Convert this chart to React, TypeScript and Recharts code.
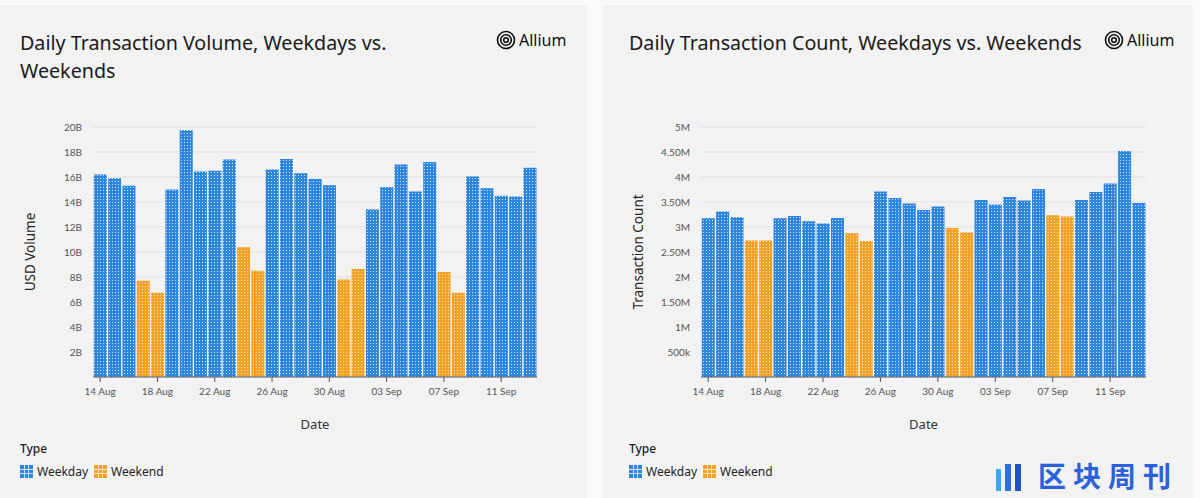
import React from 'react';
import { BarChart, Bar, XAxis, YAxis, CartesianGrid, Cell } from 'recharts';

const dates = [
  '14 Aug', '15 Aug', '16 Aug', '17 Aug', '18 Aug', '19 Aug', '20 Aug', '21 Aug', '22 Aug', '23 Aug',
  '24 Aug', '25 Aug', '26 Aug', '27 Aug', '28 Aug', '29 Aug', '30 Aug', '31 Aug', '01 Sep', '02 Sep',
  '03 Sep', '04 Sep', '05 Sep', '06 Sep', '07 Sep', '08 Sep', '09 Sep', '10 Sep', '11 Sep', '12 Sep', '13 Sep',
];
const dayTypes = [
  'Weekday', 'Weekday', 'Weekday', 'Weekend', 'Weekend', 'Weekday', 'Weekday', 'Weekday', 'Weekday', 'Weekday',
  'Weekend', 'Weekend', 'Weekday', 'Weekday', 'Weekday', 'Weekday', 'Weekday', 'Weekend', 'Weekend', 'Weekday',
  'Weekday', 'Weekday', 'Weekday', 'Weekday', 'Weekend', 'Weekend', 'Weekday', 'Weekday', 'Weekday', 'Weekday', 'Weekday',
];
// USD volume, billions
const volumeB = [
  16.2, 15.9, 15.3, 7.7, 6.75, 15.0, 19.75, 16.45, 16.5, 17.4,
  10.4, 8.5, 16.6, 17.45, 16.3, 15.85, 15.35, 7.8, 8.65, 13.4,
  15.2, 17.0, 14.85, 17.2, 8.4, 6.75, 16.05, 15.1, 14.5, 14.45, 16.75,
];
// transaction count, millions
const countM = [
  3.175, 3.31, 3.195, 2.73, 2.73, 3.175, 3.22, 3.115, 3.07, 3.18,
  2.875, 2.72, 3.71, 3.58, 3.47, 3.34, 3.41, 2.98, 2.89, 3.54,
  3.45, 3.6, 3.53, 3.76, 3.235, 3.21, 3.54, 3.7, 3.87, 4.52, 3.48,
];
const volumeTicks = [2, 4, 6, 8, 10, 12, 14, 16, 18, 20];
const countTicks = [0.5, 1, 1.5, 2, 2.5, 3, 3.5, 4, 4.5, 5];

const volumeData = dates.map((d, i) => ({ date: d, type: dayTypes[i], value: volumeB[i] }));
const countData = dates.map((d, i) => ({ date: d, type: dayTypes[i], value: countM[i] }));

const BLUE = '#2c85de';
const ORANGE = '#f2a226';
const FONT = '"Noto Sans", "Open Sans", sans-serif';
const TICK = { fontSize: 10, fill: '#555', fontFamily: 'Lato, sans-serif' };

const fmtCount = (v: number) => {
  if (v < 1) return `${Math.round(v * 1000)}k`;
  if (Number.isInteger(v)) return `${v}M`;
  return `${v.toFixed(2)}M`;
};

const Patterns = ({ id }: { id: string }) => (
  <defs>
    <pattern id={`${id}-blue`} width={3} height={3} patternUnits="userSpaceOnUse">
      <rect width={3} height={3} fill={BLUE} />
      <rect x={1} y={1} width={1} height={1} fill="#d6e8fa" />
    </pattern>
    <pattern id={`${id}-orange`} width={3} height={3} patternUnits="userSpaceOnUse">
      <rect width={3} height={3} fill={ORANGE} />
      <rect x={1} y={1} width={1} height={1} fill="#fbe4bb" />
    </pattern>
  </defs>
);

const AlliumLogo = ({ left }: { left: number }) => (
  <div style={{ position: 'absolute', left, top: 29, display: 'flex', alignItems: 'center', gap: 3 }}>
    <svg width={20} height={20} viewBox="0 0 20 20">
      <circle cx={10} cy={10} r={8.5} fill="none" stroke="#111" strokeWidth={1.6} />
      <circle cx={10} cy={10} r={5.3} fill="none" stroke="#111" strokeWidth={1.6} />
      <circle cx={10} cy={10} r={2.3} fill="none" stroke="#111" strokeWidth={1.6} />
    </svg>
    <span style={{ fontFamily: FONT, fontSize: 16, color: '#111' }}>Allium</span>
  </div>
);

const LegendBlock = ({ left }: { left: number }) => (
  <div style={{ position: 'absolute', left, top: 440, fontFamily: FONT, color: '#222' }}>
    <div style={{ fontSize: 12, fontWeight: 500, height: 18, lineHeight: '18px' }}>Type</div>
    <div style={{ display: 'flex', alignItems: 'center', fontSize: 12, marginTop: 5 }}>
      <svg width={13} height={13} style={{ marginRight: 4 }}>
        <rect width={13} height={13} fill={BLUE} />
        <path d="M4.5 0V13M8.5 0V13M0 4.5H13M0 8.5H13" stroke="#cfe3f8" strokeWidth={1} />
      </svg>
      <span style={{ marginRight: 6 }}>Weekday</span>
      <svg width={13} height={13} style={{ marginRight: 4 }}>
        <rect width={13} height={13} fill={ORANGE} />
        <path d="M4.5 0V13M8.5 0V13M0 4.5H13M0 8.5H13" stroke="#fbe2b6" strokeWidth={1} />
      </svg>
      <span>Weekend</span>
    </div>
  </div>
);

type PanelProps = {
  id: string;
  data: { date: string; type: string; value: number }[];
  ticks: number[];
  fmt: (v: number) => string;
  yLabel: string;
  yAxisWidth: number;
  rightMargin: number;
  width: number;
  labelOffset: number;
};

const Panel = ({ id, data, ticks, fmt, yLabel, yAxisWidth, rightMargin, width, labelOffset }: PanelProps) => (
  <BarChart width={width} height={440} data={data} margin={{ top: 127, right: rightMargin, left: 0, bottom: 10 }} barCategoryGap={0.8}>
    <Patterns id={id} />
    <CartesianGrid vertical={false} stroke="#e1e1e1" />
    <XAxis
      dataKey="date"
      interval={3}
      height={53}
      tick={TICK}
      tickSize={5}
      tickMargin={6}
      stroke="#555"
      axisLine={{ stroke: '#4a5a6a' }}
      label={{ value: 'Date', position: 'insideBottom', offset: 1, style: { fontSize: 13, fill: '#333', fontFamily: FONT } }}
    />
    <YAxis
      width={yAxisWidth}
      domain={[0, ticks[ticks.length - 1]]}
      ticks={ticks}
      tickFormatter={fmt}
      tick={TICK}
      axisLine={false}
      tickLine={false}
      tickMargin={5}
      label={{ value: yLabel, angle: -90, position: 'insideLeft', offset: labelOffset, style: { textAnchor: 'middle', fontSize: 13.5, fill: '#222', fontFamily: FONT } }}
    />
    <Bar dataKey="value" isAnimationActive={false}>
      {data.map((d, i) => (
        <Cell key={i} fill={`url(#${id}-${d.type === 'Weekday' ? 'blue' : 'orange'})`} />
      ))}
    </Bar>
  </BarChart>
);

export default function App() {
  return (
    <div style={{ position: 'absolute', left: 0, top: 0, width: 1200, height: 498, background: '#fafafa', overflow: 'hidden' }}>
      <div style={{ position: 'absolute', left: 0, top: 5, width: 587, height: 493, background: '#f2f2f2' }} />
      <div style={{ position: 'absolute', left: 603, top: 5, width: 590, height: 493, background: '#f2f2f2' }} />

      <div style={{ position: 'absolute', left: 20, top: 29, width: 450, fontFamily: FONT, fontSize: 19.7, lineHeight: '28px', color: '#1a1a1a' }}>
        Daily Transaction Volume, Weekdays vs. Weekends
      </div>
      <div style={{ position: 'absolute', left: 629, top: 29, width: 470, fontFamily: FONT, fontSize: 19.7, lineHeight: '28px', color: '#1a1a1a' }}>
        Daily Transaction Count, Weekdays vs. Weekends
      </div>
      <AlliumLogo left={496} />
      <AlliumLogo left={1104} />

      <div style={{ position: 'absolute', left: 0, top: 0 }}>
        <Panel id="vol" data={volumeData} ticks={volumeTicks} fmt={(v) => `${v}B`} yLabel="USD Volume" yAxisWidth={93} rightMargin={48} width={585} labelOffset={30} />
      </div>
      <div style={{ position: 'absolute', left: 600, top: 0 }}>
        <Panel id="cnt" data={countData} ticks={countTicks} fmt={fmtCount} yLabel="Transaction Count" yAxisWidth={101} rightMargin={44} width={590} labelOffset={38} />
      </div>

      <LegendBlock left={20} />
      <LegendBlock left={629} />

      <svg width={34} height={32} viewBox="0 0 34 32" style={{ position: 'absolute', left: 994, top: 461 }}>
        <rect x={2} y={8} width={5} height={22} fill="#36a9f0" />
        <rect x={11} y={3} width={6} height={27} fill="#2b6fe0" />
        <rect x={21} y={3} width={6} height={27} fill="#2250c8" />
      </svg>
      <div style={{ position: 'absolute', left: 1038, top: 455, fontFamily: '"Noto Sans CJK SC", sans-serif', fontSize: 28, fontWeight: 700, color: '#2b62dc', letterSpacing: 7, whiteSpace: 'nowrap' }}>
        区块周刊
      </div>
    </div>
  );
}
